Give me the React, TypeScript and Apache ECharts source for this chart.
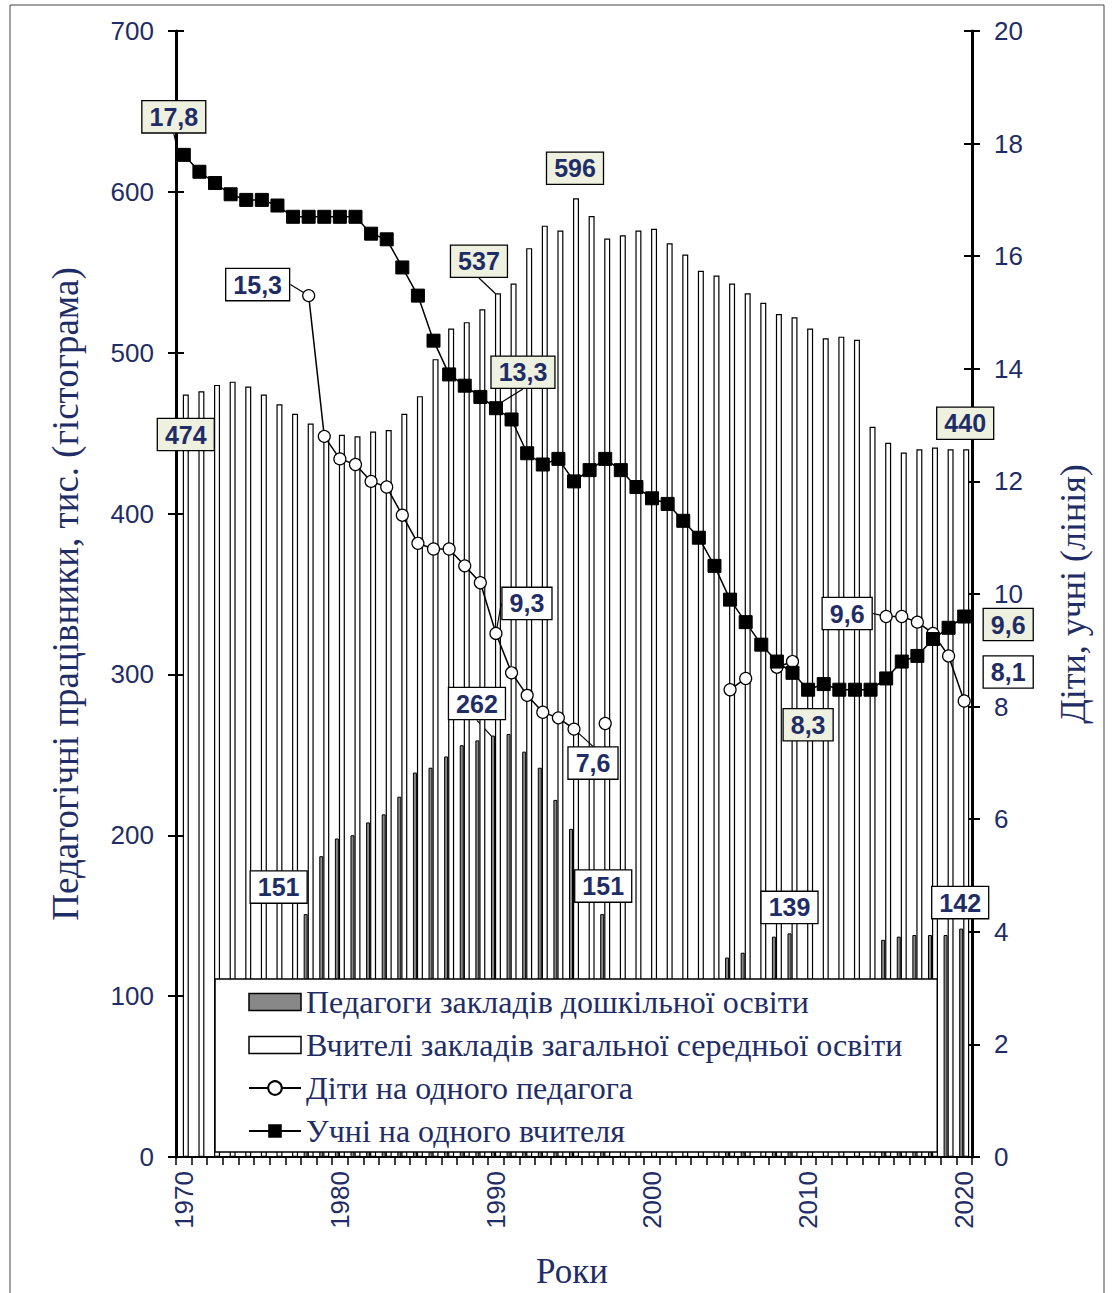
import React, { useEffect, useRef } from 'react';
import * as echarts from 'echarts';

const years = [
  '1970', '1971', '1972', '1973', '1974', '1975', '1976', '1977', '1978', '1979',
  '1980', '1981', '1982', '1983', '1984', '1985', '1986', '1987', '1988', '1989',
  '1990', '1991', '1992', '1993', '1994', '1995', '1996', '1997', '1998', '1999',
  '2000', '2001', '2002', '2003', '2004', '2005', '2006', '2007', '2008', '2009',
  '2010', '2011', '2012', '2013', '2014', '2015', '2016', '2017', '2018', '2019',
  '2020',
];

// Педагоги закладів дошкільної освіти, тис.
const preschoolTeachers: (number | null)[] = [
  null, null, null, null, null, null, null, null, 151, 187,
  198, 200, 208, 213, 224, 239, 242, 249, 256, 259,
  262, 263, 252, 242, 222, 204, null, 151, null, null,
  null, null, null, null, null, 124, 127, null, 137, 139,
  null, null, null, null, null, 135, 137, 138, 138, 138,
  142,
];

// Вчителі закладів загальної середньої освіти, тис.
const schoolTeachers: number[] = [
  474, 476, 480, 482, 479, 474, 468, 462, 456, 450,
  449, 448, 451, 452, 462, 473, 496, 515, 519, 527,
  537, 543, 565, 579, 576, 596, 585, 571, 573, 576,
  577, 568, 561, 551, 548, 543, 537, 531, 524, 522,
  515, 509, 510, 508, 454, 444, 438, 440, 441, 440,
  440,
];

// Діти на одного педагога
const childrenPerTeacher: (number | null)[] = [
  null, null, null, null, null, null, null, null, 15.3, 12.8,
  12.4, 12.3, 12.0, 11.9, 11.4, 10.9, 10.8, 10.8, 10.5, 10.2,
  9.3, 8.6, 8.2, 7.9, 7.8, 7.6, null, 7.7, null, null,
  null, null, null, null, null, 8.3, 8.5, null, 8.7, 8.8,
  null, null, null, null, null, 9.6, 9.6, 9.5, 9.3, 8.9,
  8.1,
];

// Учні на одного вчителя
const pupilsPerTeacher: number[] = [
  17.8, 17.5, 17.3, 17.1, 17.0, 17.0, 16.9, 16.7, 16.7, 16.7,
  16.7, 16.7, 16.4, 16.3, 15.8, 15.3, 14.5, 13.9, 13.7, 13.5,
  13.3, 13.1, 12.5, 12.3, 12.4, 12.0, 12.2, 12.4, 12.2, 11.9,
  11.7, 11.6, 11.3, 11.0, 10.5, 9.9, 9.5, 9.1, 8.8, 8.6,
  8.3, 8.4, 8.3, 8.3, 8.3, 8.5, 8.8, 8.9, 9.2, 9.4,
  9.6,
];

const seriesNames = [
  'Педагоги закладів дошкільної освіти',
  'Вчителі закладів загальної середньої освіти',
  'Діти на одного педагога',
  'Учні на одного вчителя',
];

const leftAxisTitle = 'Педагогічні працівники, тис. (гістограма)';
const rightAxisTitle = 'Діти, учні (лінія)';
const xAxisTitle = 'Роки';

// callouts: [year, offset x, offset y, leader line]
type Callout = [string, number, number, boolean];
const preschoolCallouts: Callout[] = [
  ['1978', -27, -27, false],
  ['1990', -16, -32, true],
  ['1997', 1, -28, false],
  ['2009', 0, -26, false],
  ['2020', -1, -26, false],
];
const schoolCallouts: Callout[] = [
  ['1970', 0, 40, false],
  ['1990', -19, -32, true],
  ['1995', -1, -30, false],
  ['2020', -1, -26, false],
];
const childrenCallouts: Callout[] = [
  ['1978', -51, -11, true],
  ['1990', 31, -30, true],
  ['1995', 19, 34, true],
  ['2015', -39, -3, true],
  ['2020', 44, -29, false],
];
const pupilsCallouts: Callout[] = [
  ['1970', -10, -38, true],
  ['1990', 27, -36, true],
  ['2010', 0, 35, false],
  ['2020', 44, 8, false],
];

const NAVY = '#1F2D66';
const GREEN_BG = '#EEF1DF';
const SANS = '"Liberation Sans", Arial, sans-serif';
const SERIF = '"Liberation Serif", "Times New Roman", serif';

const fmt = (v: any) => String(v).replace('.', ',');

function buildData(values: (number | null)[], callouts: Callout[]) {
  return values.map((v, i) => {
    const c = callouts.find((k) => k[0] === years[i]);
    if (!c || v == null) return v;
    return {
      value: v,
      label: { show: true },
      labelLine: { show: c[3] },
    };
  });
}

function calloutMap(callouts: Callout[]) {
  const m: Record<number, Callout> = {};
  callouts.forEach((c) => {
    m[years.indexOf(c[0])] = c;
  });
  return m;
}

function labelStyle(bg: string) {
  return {
    show: false,
    formatter: (p: any) => fmt(p.value),
    fontFamily: SANS,
    fontWeight: 'bold' as const,
    fontSize: 25,
    color: NAVY,
    backgroundColor: bg,
    borderColor: '#000',
    borderWidth: 1.3,
    padding: [4, 7, 2, 7],
  };
}

function makeLayout(callouts: Callout[], isBar: boolean) {
  const map = calloutMap(callouts);
  return (params: any) => {
    const c = map[params.dataIndex];
    if (!c) return {};
    const r = params.rect;
    const cx = r.x + r.width / 2;
    const top = Math.min(r.y, r.y + r.height);
    const cy = isBar ? top : r.y + r.height / 2;
    return {
      x: cx + c[1],
      y: cy + c[2],
      align: 'center',
      verticalAlign: 'middle',
    };
  };
}

const labelLineBase = { show: false, lineStyle: { color: '#000', width: 1.2 } };

export default function App() {
  const ref = useRef<HTMLDivElement>(null);

  useEffect(() => {
    if (!ref.current) return;
    const chart = echarts.init(ref.current, undefined, { renderer: 'svg' });

    const yAxisCommon = {
      type: 'value' as const,
      splitLine: { show: false },
      axisLine: { show: true, lineStyle: { color: '#000', width: 3 } },
      axisTick: { show: true, length: 8, lineStyle: { color: '#000', width: 2 } },
      axisLabel: { margin: 22, fontFamily: SANS, fontSize: 26, color: NAVY },
    };

    const option: any = {
      animation: false,
      backgroundColor: '#fff',
      grid: { left: 176, right: 140, top: 31, bottom: 136, containLabel: false },
      xAxis: {
        type: 'category',
        data: years,
        boundaryGap: true,
        axisLine: { show: true, lineStyle: { color: '#000', width: 2 } },
        axisTick: { show: true, interval: 0, length: 8, lineStyle: { color: '#000', width: 1.5 } },
        axisLabel: { interval: 9, rotate: 90, margin: 14, fontFamily: SANS, fontSize: 26, color: NAVY },
        splitLine: { show: false },
      },
      yAxis: [
        { ...yAxisCommon, position: 'left', min: 0, max: 700, interval: 100 },
        { ...yAxisCommon, position: 'right', min: 0, max: 20, interval: 2 },
        {
          type: 'value', position: 'left', min: 0, max: 700, interval: 100,
          axisLine: { show: false }, axisLabel: { show: false }, splitLine: { show: false },
          axisTick: { show: true, inside: true, length: 8, lineStyle: { color: '#000', width: 2 } },
        },
        {
          type: 'value', position: 'right', min: 0, max: 20, interval: 2,
          axisLine: { show: false }, axisLabel: { show: false }, splitLine: { show: false },
          axisTick: { show: true, inside: true, length: 8, lineStyle: { color: '#000', width: 2 } },
        },
      ],
      legend: {
        orient: 'vertical',
        left: 215,
        top: 979,
        padding: [7, 35, 5, 33],
        itemWidth: 52,
        itemHeight: 17,
        itemGap: 11,
        backgroundColor: '#fff',
        borderColor: '#000',
        borderWidth: 1.5,
        selectedMode: false,
        textStyle: { fontFamily: SERIF, fontSize: 32, color: NAVY, lineHeight: 32 },
        data: [
          { name: seriesNames[0], icon: 'rect', itemStyle: { color: '#888', borderColor: '#000', borderWidth: 1.5 } },
          { name: seriesNames[1], icon: 'rect', itemStyle: { color: '#fff', borderColor: '#000', borderWidth: 1.5 } },
          { name: seriesNames[2] },
          { name: seriesNames[3] },
        ],
      },
      graphic: [
        {
          type: 'rect', silent: true, z: 0,
          shape: { x: 10, y: 5, width: 1094, height: 1320 },
          style: { fill: 'none', stroke: '#444', lineWidth: 1 },
        },
        {
          type: 'text', x: 65, y: 594, rotation: Math.PI / 2,
          style: { text: leftAxisTitle, fontFamily: SERIF, fontSize: 37, fill: NAVY, align: 'center', verticalAlign: 'middle' },
        },
        {
          type: 'text', x: 1073, y: 594, rotation: Math.PI / 2,
          style: { text: rightAxisTitle, fontFamily: SERIF, fontSize: 36, fill: NAVY, align: 'center', verticalAlign: 'middle' },
        },
        {
          type: 'text', x: 572, y: 1271,
          style: { text: xAxisTitle, fontFamily: SERIF, fontSize: 35, fill: NAVY, align: 'center', verticalAlign: 'middle' },
        },
      ],
      series: [
        {
          name: seriesNames[0],
          type: 'bar',
          yAxisIndex: 0,
          barWidth: 4,
          barGap: '0%',
          data: buildData(preschoolTeachers, preschoolCallouts),
          itemStyle: { color: '#888', borderColor: '#000', borderWidth: 1 },
          label: labelStyle('#fff'),
          labelLine: labelLineBase,
          labelLayout: makeLayout(preschoolCallouts, true),
          emphasis: { disabled: true },
          z: 2,
        },
        {
          name: seriesNames[1],
          type: 'bar',
          yAxisIndex: 0,
          barWidth: 6,
          barGap: '0%',
          data: buildData(schoolTeachers, schoolCallouts),
          itemStyle: { color: '#fff', borderColor: '#000', borderWidth: 1.2 },
          label: labelStyle(GREEN_BG),
          labelLine: labelLineBase,
          labelLayout: makeLayout(schoolCallouts, true),
          emphasis: { disabled: true },
          z: 2,
        },
        {
          name: seriesNames[2],
          type: 'line',
          yAxisIndex: 1,
          symbol: 'circle',
          symbolSize: 12,
          showSymbol: true,
          showAllSymbol: true,
          connectNulls: false,
          data: buildData(childrenPerTeacher, childrenCallouts),
          itemStyle: { color: '#fff', borderColor: '#000', borderWidth: 1.2 },
          lineStyle: { color: '#000', width: 1.5 },
          label: labelStyle('#fff'),
          labelLine: labelLineBase,
          labelLayout: makeLayout(childrenCallouts, false),
          emphasis: { disabled: true },
          z: 3,
        },
        {
          name: seriesNames[3],
          type: 'line',
          yAxisIndex: 1,
          symbol: 'rect',
          symbolSize: 13,
          showSymbol: true,
          showAllSymbol: true,
          data: buildData(pupilsPerTeacher, pupilsCallouts),
          itemStyle: { color: '#000', borderColor: '#000' },
          lineStyle: { color: '#000', width: 1.5 },
          label: labelStyle(GREEN_BG),
          labelLine: labelLineBase,
          labelLayout: makeLayout(pupilsCallouts, false),
          emphasis: { disabled: true },
          z: 4,
        },
      ],
    };

    chart.setOption(option);
    return () => chart.dispose();
  }, []);

  return (
    <div
      ref={ref}
      style={{ position: 'absolute', left: 0, top: 0, width: 1112, height: 1293 }}
    />
  );
}
